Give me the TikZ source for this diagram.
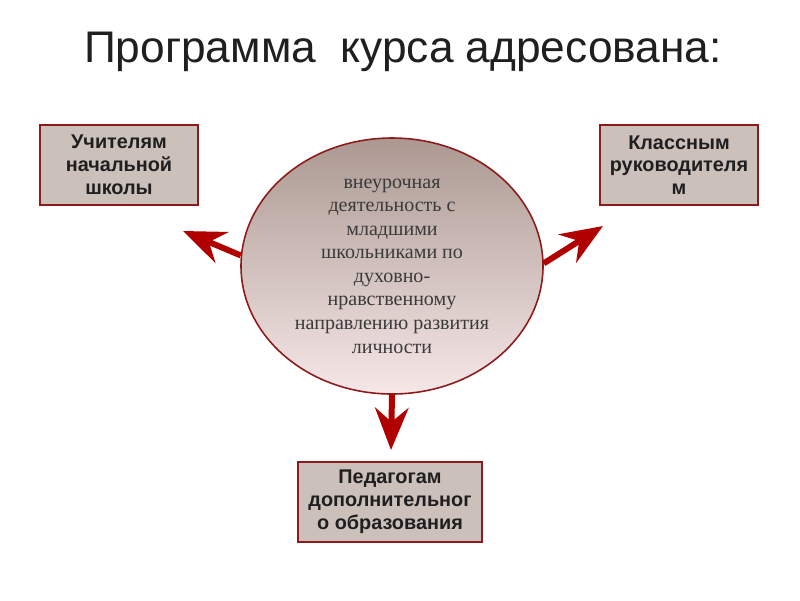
\documentclass[tikz,border=0pt]{standalone}
\usepackage{fontspec}
\setmainfont{Liberation Sans}
\newfontfamily\ovalfont{Liberation Serif}
\usetikzlibrary{arrows.meta,shapes.geometric}
\definecolor{boxfill}{HTML}{CCC0BB}
\definecolor{boxline}{HTML}{8E1B1B}
\definecolor{arrowred}{HTML}{B00000}
\definecolor{ovaltop}{HTML}{AB9891}
\definecolor{ovalmid}{HTML}{DAB0B0}
\definecolor{ovalbot}{HTML}{F6E8E8}
\definecolor{ovaltext}{HTML}{3A3A3A}

\begin{document}
\begin{tikzpicture}[x=0.02cm,y=-0.02cm,
    target/.style={draw=boxline,line width=1.4pt,fill=boxfill,align=center,
      minimum width=158*0.02cm,minimum height=80*0.02cm,inner sep=2pt,
      font=\bfseries\fontsize{11.3}{13}\selectfont,text=black!88},
    oval/.style={ellipse,draw=boxline,line width=0.9pt,top color=ovaltop,middle color=ovalmid,
      bottom color=ovalbot,minimum width=302*0.02cm,minimum height=256*0.02cm,inner sep=0pt,
      align=center,font=\ovalfont\fontsize{11.4}{13.4}\selectfont,text=ovaltext},
    bigarrow/.style={draw=arrowred,line width=3.4pt,
      -{Stealth[length=24pt,width=19pt,inset=8pt]}}]
  \useasboundingbox (0,0) rectangle (800,600);
  \node[font=\fontsize{25.2}{28}\selectfont,text=black!88,anchor=base] (title) at (403,62) {Программа\ \ курса адресована:};
  % centre
  \node[oval] (core) at (392,266) {внеурочная\\деятельность с\\младшими\\школьниками по\\духовно-\\нравственному\\направлению развития\\личности};
  % the three audiences
  \node[target] (primary) at (119,165) {Учителям\\начальной\\школы};
  \node[target] (classlead) at (679,165) {Классным\\руководителя\\м};
  \node[target,minimum width=184*0.02cm] (extra) at (390,502) {Педагогам\\дополнительног\\о образования};
  \coordinate (tipL) at (183,231);
  \coordinate (tipR) at (603,226);
  \coordinate (tipD) at (391,450);
  \draw[bigarrow] (core.176) -- (tipL);
  \draw[bigarrow] (core.1.5) -- (tipR);
  \draw[bigarrow] (core.south) -- (tipD);
\end{tikzpicture}
\end{document}
